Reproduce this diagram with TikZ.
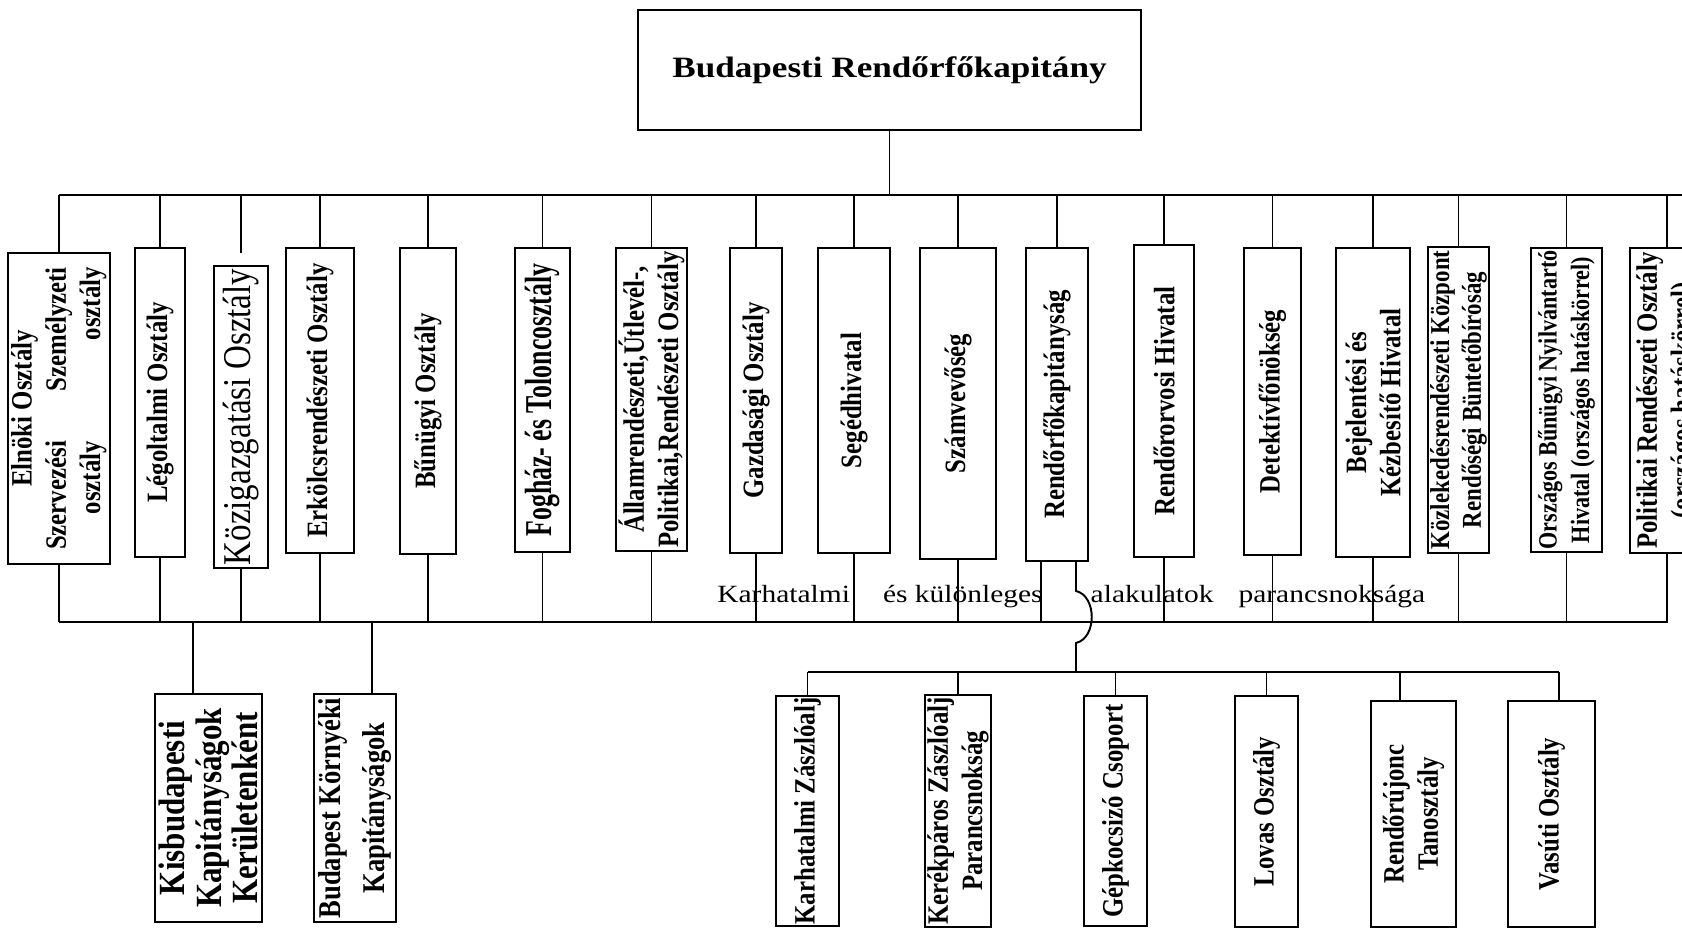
\documentclass[tikz,border=0pt]{standalone}
\usepackage{fontspec}
\setmainfont{Liberation Serif}[FakeStretch=0.84]
\newfontfamily\flatfont{Liberation Serif}[FakeStretch=1.19]
\newfontfamily\slimfont{Liberation Serif}[FakeStretch=0.68]
\tikzset{
	office/.style={draw, line width=1.1pt, rotate=90, inner sep=0pt, align=center, font=\bfseries\fontsize{16.8}{19.5}\selectfont},
	link/.style={line width=1.1pt},
	bus/.style={line width=1.4pt}
}

\begin{document}
\begin{tikzpicture}
			%%%%% START %%%%%
			\useasboundingbox (0, 0) rectangle (33.64, -18.6);
			
			\node[draw, line width=1.1pt, minimum width=10.06cm, minimum height=2.4cm, font=\flatfont\bfseries\fontsize{16.8}{20}\selectfont] (chief) at (17.79, -1.4) {Budapesti Rendőrfőkapitány};
			
			\coordinate (topbus) at (0, -3.9);
			\coordinate (lowbus) at (0, -12.44);
			\coordinate (rightbus) at (0, -13.44);
			\coordinate (busend) at (33.9, -3.9);
			
			\node[office, minimum width=6.22cm, minimum height=1.88cm] (elnoki) at (1.18, -8.17) {\begin{tabular}{@{}r@{\hspace{1cm}}r@{}}\multicolumn{2}{c}{Elnöki Osztály}\\Szervezési & Személyzeti\\osztály & osztály\end{tabular}};
			\node[office, minimum width=6.18cm, minimum height=1cm] (legolt) at (3.2, -8.05) {Légoltalmi Osztály};
			\node[office, minimum width=6.04cm, minimum height=1.08cm, font=\fontsize{22.4}{26}\selectfont] (kozig) at (4.82, -8.34) {Közigazgatási Osztály};
			\node[office, minimum width=6.1cm, minimum height=1.36cm] (erkolcs) at (6.4, -8.01) {Erkölcsrendészeti Osztály};
			\node[office, minimum width=6.12cm, minimum height=1.12cm] (bunugyi) at (8.56, -8.02) {Bűnügyi Osztály};
			\node[office, minimum width=6.08cm, minimum height=1.1cm, font=\slimfont\bfseries\fontsize{21.6}{24}\selectfont] (foghaz) at (10.85, -8) {Fogház- és Toloncosztály};
			\node[office, minimum width=6.06cm, minimum height=1.42cm] (allam) at (13.03, -7.99) {Államrendészeti,Útlevél-,\\Politikai,Rendészeti Osztály};
			\node[office, minimum width=6.1cm, minimum height=1.04cm] (gazd) at (15.12, -8.01) {Gazdasági Osztály};
			\node[office, minimum width=6.1cm, minimum height=1.44cm] (seged) at (17.08, -8.01) {Segédhivatal};
			\node[office, minimum width=6.22cm, minimum height=1.52cm] (szamv) at (19.16, -8.07) {Számvevőség};
			\node[office, minimum width=6.26cm, minimum height=1.24cm] (rfk) at (21.14, -8.09) {Rendőrfőkapitányság};
			\node[office, minimum width=6.24cm, minimum height=1.2cm] (orvos) at (23.28, -8.02) {Rendőrorvosi Hivatal};
			\node[office, minimum width=6.14cm, minimum height=1.14cm] (detekt) at (25.45, -8.03) {Detektívfőnökség};
			\node[office, minimum width=6.18cm, minimum height=1.48cm] (bejel) at (27.46, -8.05) {Bejelentési és\\Kézbesítő Hivatal};
			\node[office, minimum width=6.12cm, minimum height=1.22cm, font=\bfseries\fontsize{15.5}{18}\selectfont] (kozlek) at (29.17, -8) {Közlekedésrendészeti Központ\\Rendőségi Büntetőbíróság};
			\node[office, minimum width=6.08cm, minimum height=1.42cm, font=\bfseries\fontsize{15}{18.5}\selectfont] (orszagos) at (31.33, -8) {Országos Bűnügyi Nyilvántartó\\Hivatal (országos hatáskörrel)};
			\node[office, minimum width=6.1cm, minimum height=1.48cm] (politikai) at (33.34, -8.01) {Politikai Rendészeti Osztály\\(országos hatáskörrel)};
			
			\draw[link, line width=0.6pt] (chief.south) -- (chief.south |- topbus);
			\draw[bus] (elnoki.east |- topbus) -- (busend);
			\draw[bus] (elnoki.west |- lowbus) -- (politikai.west |- lowbus) -- (politikai.west);
			
			\draw[link] (elnoki.east) -- (elnoki.east |- topbus) (elnoki.west) -- (elnoki.west |- lowbus);
			\draw[link] (legolt.east) -- (legolt.east |- topbus) (legolt.west) -- (legolt.west |- lowbus);
			\draw[link] (kozig.east |- topbus) -- ([yshift=0.24cm]kozig.east) (kozig.west) -- (kozig.west |- lowbus);
			\draw[link] (erkolcs.east) -- (erkolcs.east |- topbus) (erkolcs.west) -- (erkolcs.west |- lowbus);
			\draw[link] (bunugyi.east) -- (bunugyi.east |- topbus) (bunugyi.west) -- (bunugyi.west |- lowbus);
			\draw[link] (foghaz.east) -- (foghaz.east |- topbus) (foghaz.west) -- (foghaz.west |- lowbus);
			\draw[link] (allam.east) -- (allam.east |- topbus) (allam.west) -- (allam.west |- lowbus);
			\draw[link] (gazd.east) -- (gazd.east |- topbus) (gazd.west) -- (gazd.west |- lowbus);
			\draw[link] (seged.east) -- (seged.east |- topbus) (seged.west) -- (seged.west |- lowbus);
			\draw[link] (szamv.east) -- (szamv.east |- topbus) (szamv.west) -- (szamv.west |- lowbus);
			\draw[link] (orvos.east) -- (orvos.east |- topbus) (orvos.west) -- (orvos.west |- lowbus);
			\draw[link] (detekt.east) -- (detekt.east |- topbus) (detekt.west) -- (detekt.west |- lowbus);
			\draw[link] (bejel.east) -- (bejel.east |- topbus) (bejel.west) -- (bejel.west |- lowbus);
			\draw[link] (kozlek.east) -- (kozlek.east |- topbus) (kozlek.west) -- (kozlek.west |- lowbus);
			\draw[link] (orszagos.east) -- (orszagos.east |- topbus) (orszagos.west) -- (orszagos.west |- lowbus);
			\draw[link] (politikai.east) -- (politikai.east |- topbus);
			
			\coordinate (rfkdown) at ([xshift=-0.32cm]rfk.west);
			\coordinate (rfkjump) at ([xshift=0.38cm]rfk.west);
			\coordinate (jumptop) at ([yshift=-0.58cm]rfkjump);
			\coordinate (jumpbot) at ([yshift=-1.62cm]rfkjump);
			\draw[link] (rfk.east) -- (rfk.east |- topbus) (rfkdown) -- (rfkdown |- lowbus);
			\draw[link] (rfkjump) -- (jumptop) .. controls +(0.42, -0.1) and +(0.42, 0.1) .. (jumpbot) -- (jumpbot |- rightbus);
			
			\node[anchor=base west, inner sep=0pt, font=\flatfont\fontsize{14.1}{16}\selectfont] (kulonleges) at (14.34, -12.04) {Karhatalmi\hspace{0.66cm}és különleges\hspace{0.96cm}alakulatok\hspace{0.5cm}parancsnoksága};
			
			\node[office, minimum width=4.56cm, minimum height=2.14cm, font=\bfseries\fontsize{21}{21}\selectfont] (kisbp) at (4.17, -16.16) {Kisbudapesti\\Kapitányságok\\Kerületenként};
			\node[office, minimum width=4.56cm, minimum height=1.64cm, font=\bfseries\fontsize{18}{25}\selectfont] (kornyek) at (7.1, -16.16) {Budapest Környéki\\Kapitányságok};
			
			\coordinate (kisbpup) at ([xshift=-0.31cm]kisbp.east);
			\coordinate (kornyekup) at ([xshift=0.34cm]kornyek.east);
			\draw[link] (kisbpup |- lowbus) -- (kisbpup) (kornyekup |- lowbus) -- (kornyekup);
			
			\node[office, minimum width=4.6cm, minimum height=1.26cm] (karzl) at (16.15, -16.22) {Karhatalmi Zászlóalj};
			\node[office, minimum width=4.64cm, minimum height=1.32cm] (kerek) at (19.16, -16.22) {Kerékpáros Zászlóalj\\Parancsnokság};
			\node[office, minimum width=4.6cm, minimum height=1.26cm] (gepk) at (22.31, -16.22) {Gépkocsizó Csoport};
			\node[office, minimum width=4.62cm, minimum height=1.26cm] (lovas) at (25.33, -16.23) {Lovas Osztály};
			\node[office, minimum width=4.52cm, minimum height=1.7cm] (ujonc) at (28.27, -16.28) {Rendőrújonc\\Tanosztály};
			\node[office, minimum width=4.52cm, minimum height=1.74cm] (vasuti) at (31.03, -16.28) {Vasúti Osztály};
			
			\coordinate (ujoncup) at ([xshift=-0.27cm]ujonc.east);
			\coordinate (vasutiup) at ([xshift=0.15cm]vasuti.east);
			\draw[bus] (karzl.east |- rightbus) -- (vasutiup |- rightbus);
			\draw[link] (karzl.east |- rightbus) -- (karzl.east) (kerek.east |- rightbus) -- (kerek.east) (gepk.east |- rightbus) -- (gepk.east);
			\draw[link] (lovas.east |- rightbus) -- (lovas.east) (ujoncup |- rightbus) -- (ujoncup) (vasutiup |- rightbus) -- (vasutiup);
			
			%%%%% END %%%%%
\end{tikzpicture}
\end{document}
